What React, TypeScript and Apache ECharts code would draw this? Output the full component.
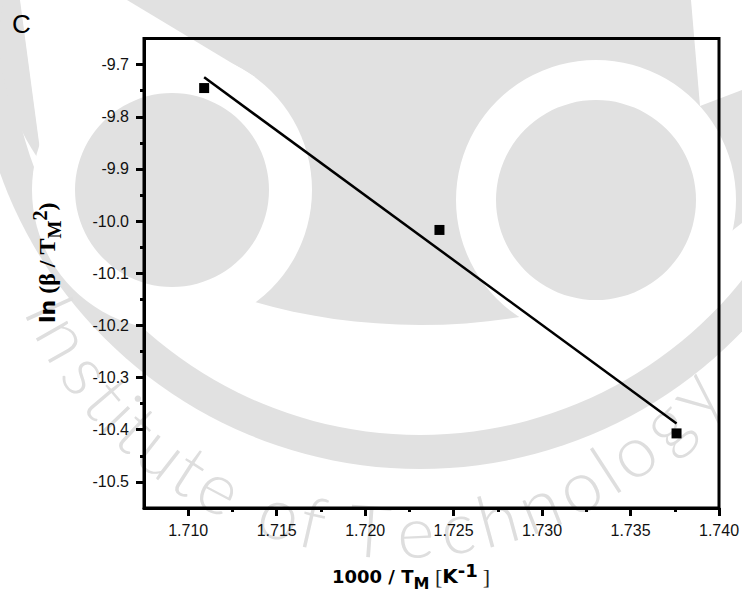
import React, { useEffect, useRef } from "react";
import * as echarts from "echarts";

// ---- data ----
const xValues = [1.7109, 1.7242, 1.7376];
const yValues = [-9.745, -10.017, -10.407];
const fitX = [1.7109, 1.7376];
const fitY = [-9.7245, -10.388];
const xMajorTicks = [1.71, 1.715, 1.72, 1.725, 1.73, 1.735, 1.74];
const xMinorTicks = [1.7125, 1.7175, 1.7225, 1.7275, 1.7325, 1.7375];
const yMajorTicks = [-10.5, -10.4, -10.3, -10.2, -10.1, -10.0, -9.9, -9.8, -9.7];
const yMinorTicks = [-10.45, -10.35, -10.25, -10.15, -10.05, -9.95, -9.85, -9.75];
const xRange = [1.7075, 1.74];
const yRange = [-10.55, -9.65];
const panelLabel = "C";
const watermarkText = "Institute of Technology";

const BLACK = "#000";
const GREY = "#e1e1e1";
const TICK_FONT = "Liberation Sans";

const letterWidths: Record<string, number> = {
  I: 0.28, n: 0.55, s: 0.5, t: 0.3, i: 0.25, u: 0.55, e: 0.55, " ": 0.28,
  o: 0.55, f: 0.3, T: 0.6, c: 0.5, h: 0.55, l: 0.25, g: 0.55, y: 0.5,
};

function watermark(): any[] {
  const els: any[] = [
    { type: "circle", z: -20, silent: true, shape: { cx: 420, cy: 23, r: 446 }, style: { fill: GREY } },
    { type: "circle", z: -19, silent: true, shape: { cx: 420, cy: 23, r: 412 }, style: { fill: "#fff" } },
    { type: "ellipse", z: -18, silent: true, shape: { cx: 420, cy: 40, rx: 420, ry: 285 }, style: { fill: GREY } },
    { type: "polygon", z: -17, silent: true, shape: { points: [[20, 0], [127, 0], [255, 77], [40, 150]] }, style: { fill: "#fff" } },
    { type: "polygon", z: -17, silent: true, shape: { points: [[691, 0], [742, 0], [742, 90], [700, 106]] }, style: { fill: "#fff" } },
    { type: "circle", z: -16, silent: true, shape: { cx: 172, cy: 190, r: 140 }, style: { fill: "#fff" } },
    { type: "circle", z: -16, silent: true, shape: { cx: 596, cy: 200, r: 140 }, style: { fill: "#fff" } },
    { type: "circle", z: -15, silent: true, shape: { cx: 172, cy: 190, r: 97 }, style: { fill: GREY } },
    { type: "circle", z: -15, silent: true, shape: { cx: 596, cy: 200, r: 100 }, style: { fill: GREY } },
  ];
  // letters along an arc
  const cx = 398, cy = 150, R = 380, degPerEm = 11.9, start = 155.5;
  let cum = 0;
  const chars = watermarkText.split("");
  const firstHalf = (letterWidths[chars[0]] ?? 0.5) / 2;
  chars.forEach((ch) => {
    const w = letterWidths[ch] ?? 0.5;
    const mid = cum + w / 2;
    cum += w;
    if (ch === " ") return;
    const theta = ((start - (mid - firstHalf) * degPerEm) * Math.PI) / 180;
    els.push({
      type: "text",
      z: -10,
      silent: true,
      x: cx + R * Math.cos(theta),
      y: cy + R * Math.sin(theta),
      rotation: Math.PI / 2 - theta,
      style: {
        text: ch,
        fontFamily: "Lato",
        fontWeight: 300,
        fontSize: 72,
        fill: "#dedede",
        align: "center",
        verticalAlign: "middle",
      },
    });
  });
  return els;
}

const axisCommon = {
  type: "value" as const,
  splitLine: { show: false },
};

function buildOption(): any {
  return {
    animation: false,
    backgroundColor: "#fff",
    grid: {
      left: 144,
      top: 38.5,
      right: 23,
      bottom: 86,
      show: true,
      borderColor: BLACK,
      borderWidth: 3,
      backgroundColor: "transparent",
      containLabel: false,
      outerBoundsMode: "none",
    },
    xAxis: [
      {
        ...axisCommon,
        min: xRange[0],
        max: xRange[1],
        position: "bottom",
        axisLine: { show: true, onZero: false, lineStyle: { color: BLACK, width: 3 } },
        axisTick: { show: true, inside: false, length: 8, customValues: xMajorTicks, lineStyle: { color: BLACK, width: 3 } },
        axisLabel: {
          show: true,
          customValues: xMajorTicks,
          formatter: (v: number) => v.toFixed(3),
          fontFamily: TICK_FONT,
          fontSize: 16,
          color: "#111",
          margin: 14,
        },
      },
      {
        ...axisCommon,
        min: xRange[0],
        max: xRange[1],
        position: "bottom",
        axisLine: { show: false, onZero: false },
        axisTick: { show: true, inside: false, length: 4, customValues: xMinorTicks, lineStyle: { color: BLACK, width: 3 } },
        axisLabel: { show: false },
      },
    ],
    yAxis: [
      {
        ...axisCommon,
        min: yRange[0],
        max: yRange[1],
        position: "left",
        axisLine: { show: true, onZero: false, lineStyle: { color: BLACK, width: 3 } },
        axisTick: { show: true, inside: false, length: 8, customValues: yMajorTicks, lineStyle: { color: BLACK, width: 3 } },
        axisLabel: {
          show: true,
          customValues: yMajorTicks,
          formatter: (v: number) => v.toFixed(1),
          fontFamily: TICK_FONT,
          fontSize: 16,
          color: "#111",
          margin: 15,
        },
      },
      {
        ...axisCommon,
        min: yRange[0],
        max: yRange[1],
        position: "left",
        axisLine: { show: false, onZero: false },
        axisTick: { show: true, inside: false, length: 4, customValues: yMinorTicks, lineStyle: { color: BLACK, width: 3 } },
        axisLabel: { show: false },
      },
    ],
    series: [
      {
        type: "line",
        xAxisIndex: 0,
        yAxisIndex: 0,
        data: fitX.map((x, i) => [x, fitY[i]]),
        showSymbol: false,
        symbol: "none",
        lineStyle: { color: BLACK, width: 2.5, opacity: 1 },
        z: 3,
      },
      {
        type: "scatter",
        xAxisIndex: 0,
        yAxisIndex: 0,
        data: xValues.map((x, i) => [x, yValues[i]]),
        symbol: "rect",
        symbolSize: 10,
        itemStyle: { color: BLACK, opacity: 1 },
        z: 4,
      },
    ],
    graphic: {
      elements: [
        ...watermark(),
        {
          type: "text",
          z: 10,
          x: 12,
          y: 24,
          style: {
            text: panelLabel,
            fontFamily: "Liberation Sans",
            fontSize: 26,
            fill: BLACK,
            align: "left",
            verticalAlign: "middle",
          },
        },
        {
          type: "text",
          z: 10,
          x: 332,
          y: 576,
          style: {
            text: "{a|1000 / T}{sub|M}{br| [}{k|K}{sup|-1}{brr|]}",
            align: "left",
            verticalAlign: "middle",
            rich: {
              a: { fontFamily: "DejaVu Sans", fontWeight: "bold", fontSize: 18, lineHeight: 30, fill: BLACK },
              k: { fontFamily: "DejaVu Sans", fontWeight: "bold", fontSize: 20, lineHeight: 30, fill: BLACK },
              sub: { fontFamily: "DejaVu Sans", fontWeight: "bold", fontSize: 16, lineHeight: 12, verticalAlign: "bottom", fill: BLACK },
              sup: { fontFamily: "DejaVu Sans", fontWeight: "bold", fontSize: 18, lineHeight: 8, verticalAlign: "top", fill: BLACK },
              br: { fontFamily: "Liberation Serif", fontSize: 22, lineHeight: 30, fill: "#222" },
              brr: { fontFamily: "Liberation Serif", fontSize: 22, lineHeight: 30, fill: "#222", padding: [0, 0, 0, 5] },
            },
          },
        },
        {
          type: "text",
          z: 10,
          x: 47,
          y: 323,
          rotation: Math.PI / 2,
          style: {
            text: "{ln|ln}{s| (β / T}{sub|M}{sup|2}{s|)}",
            align: "left",
            verticalAlign: "middle",
            rich: {
              ln: { fontFamily: "DejaVu Sans", fontWeight: "bold", fontSize: 22, lineHeight: 34, fill: BLACK },
              s: { fontFamily: "Liberation Serif", fontWeight: "bold", fontSize: 24, lineHeight: 34, fill: BLACK },
              sub: { fontFamily: "Liberation Serif", fontWeight: "bold", fontSize: 19, lineHeight: 22, verticalAlign: "bottom", fill: BLACK },
              sup: { fontFamily: "Liberation Serif", fontWeight: "bold", fontSize: 20, lineHeight: 16, verticalAlign: "top", fill: BLACK },
            },
          },
        },
      ],
    },
  };
}

export default function App() {
  const ref = useRef<HTMLDivElement>(null);
  useEffect(() => {
    if (!ref.current) return;
    const chart = echarts.init(ref.current, null, { renderer: "svg" });
    chart.setOption(buildOption());
    return () => chart.dispose();
  }, []);
  return (
    <div
      ref={ref}
      style={{ position: "fixed", left: 0, top: 0, width: 742, height: 594, background: "#fff" }}
    />
  );
}
